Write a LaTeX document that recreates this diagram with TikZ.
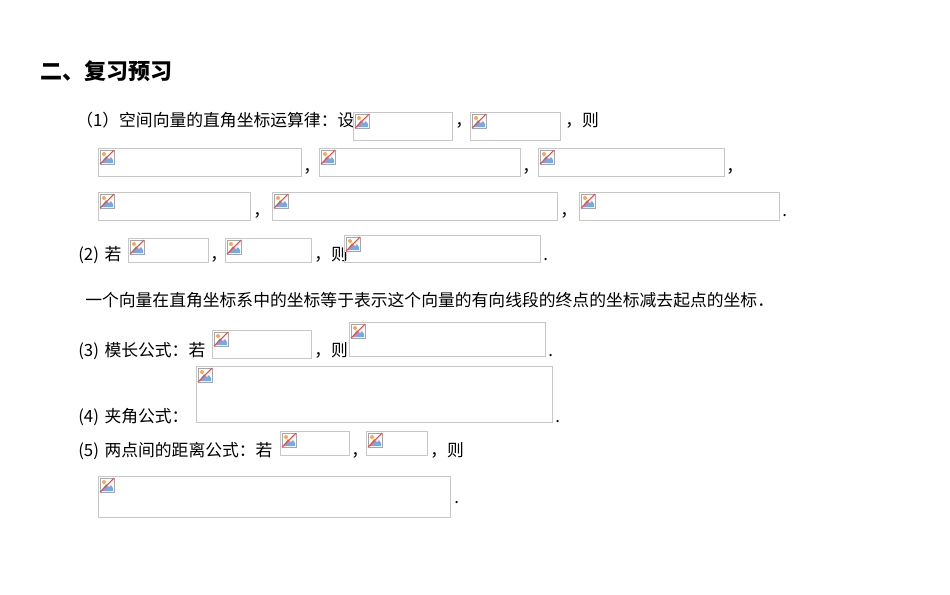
\documentclass[tikz,border=0pt]{standalone}
\usepackage{fontspec}
\setmainfont{Noto Sans CJK SC}
\begin{document}
\begin{tikzpicture}[x=0.75pt,y=-0.75pt,
  box/.style={draw=black!22,line width=0.5pt,anchor=north west,inner sep=0,outer sep=0},
  txt/.style={anchor=base west,inner sep=0,font=\fontsize{12.6}{14}\selectfont},
  icon/.pic={
    \fill[white] (0,0) rectangle (16,16);
    \draw[black!35,line width=0.4pt] (1,1) rectangle (15,15);
    \fill[cyan!60!blue!55] (2,14) -- (7,7) -- (10,10) -- (12,8) -- (14,11) -- (14,14) -- cycle;
    \fill[orange!70] (5,5) circle (2);
    \draw[red!75,line width=0.8pt] (1,15) -- (15,1);
  }]
\useasboundingbox (0,0) rectangle (950,594);
\fill[white] (0,0) rectangle (950,594);
\newcommand\bx[5]{\node[box,minimum width={(#4-#2)*0.75pt},minimum height={(#5-#3)*0.75pt}] (#1) at (#2,#3) {}; \pic at (#2+1,#3+1) {icon};}
\node[anchor=base west,inner sep=0,font=\fontsize{16.5}{19}\selectfont\bfseries] (title) at (40,79) {二、复习预习};
\node[txt] (t1) at (76,126) {（1）空间向量的直角坐标运算律：设};
\bx{a1}{353}{112}{452}{140}
\node[txt] (c1) at (455,126) {，};
\bx{a2}{470}{112}{560}{140}
\node[txt] (c2) at (565,126) {，则};
\bx{b1}{98}{148}{301}{176}
\node[txt] (c3) at (303,172) {，};
\bx{b2}{319}{148}{520}{176}
\node[txt] (c4) at (522,172) {，};
\bx{b3}{538}{148}{724}{176}
\node[txt] (c5) at (726,172) {，};
\bx{d1}{98}{192}{250}{220}
\node[txt] (c6) at (253,216) {，};
\bx{d2}{272}{192}{557}{220}
\node[txt] (c7) at (560,216) {，};
\bx{d3}{579}{192}{779}{220}
\node[txt] (c8) at (782,216) {.};
\node[txt] (t2) at (78,260) {(2)\,\,若};
\bx{e1}{128}{238}{208}{262}
\node[txt] (c9) at (210,260) {，};
\bx{e2}{225}{238}{311}{262}
\node[txt] (c10) at (314,260) {，则};
\bx{e3}{344}{235}{540}{262}
\node[txt] (c11) at (543,260) {.};
\node[txt] (t3) at (85,306) {一个向量在直角坐标系中的坐标等于表示这个向量的有向线段的终点的坐标减去起点的坐标．};
\node[txt] (t4) at (78,356) {(3)\,\,模长公式：若};
\bx{f1}{212}{330}{311}{358}
\node[txt] (c12) at (314,356) {，则};
\bx{f2}{349}{322}{545}{356}
\node[txt] (c13) at (548,356) {.};
\node[txt] (t5) at (78,422) {(4)\,\,夹角公式：};
\bx{g1}{196}{366}{552}{422}
\node[txt] (c14) at (555,422) {.};
\node[txt] (t6) at (78,456) {(5)\,\,两点间的距离公式：若};
\bx{h1}{280}{431}{349}{455}
\node[txt] (c15) at (351,456) {，};
\bx{h2}{366}{431}{427}{455}
\node[txt] (c16) at (430,456) {，则};
\bx{h3}{98}{476}{450}{517}
\node[txt] (c17) at (454,503) {.};
\end{tikzpicture}
\end{document}
